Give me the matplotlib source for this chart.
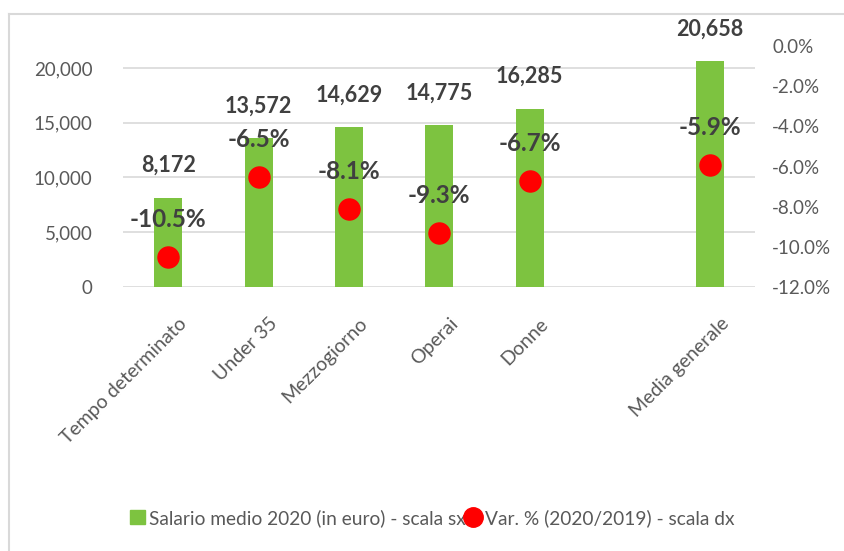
import matplotlib.pyplot as plt
from matplotlib.lines import Line2D
from matplotlib.patches import Patch
from matplotlib.transforms import ScaledTranslation

plt.rcParams['font.family'] = ['Lato', 'DejaVu Sans']

categorie = ['Tempo determinato', 'Under 35', 'Mezzogiorno', 'Operai', 'Donne', '', 'Media generale']
salario = [8172, 13572, 14629, 14775, 16285, None, 20658]
variazione = [-10.5, -6.5, -8.1, -9.3, -6.7, None, -5.9]

verde = '#7DC340'
rosso = '#FF0000'
grigio = '#595959'
scuro = '#404040'

fig = plt.figure(figsize=(8.44, 5.51), dpi=100)
ax = fig.add_axes([0.146, 0.479, 0.749, 0.4375])
ax2 = ax.twinx()

pos = list(range(len(categorie)))
for i in pos:
    if salario[i] is None:
        continue
    ax.bar(i, salario[i], width=0.31, color=verde, zorder=2)
    ax.annotate('{:,}'.format(salario[i]), (i, salario[i]), xytext=(0, 23),
                textcoords='offset points', ha='center', va='center',
                fontsize=15.5, fontweight='bold', color=scuro)

for i in pos:
    if variazione[i] is None:
        continue
    ax2.scatter(i, variazione[i], s=230, color=rosso, zorder=3)
    ax2.annotate('{:.1f}%'.format(variazione[i]), (i, variazione[i]), xytext=(0, 27),
                 textcoords='offset points', ha='center', va='center',
                 fontsize=17.5, fontweight='bold', color=scuro)

ax.set_xlim(-0.5, 6.5)
ax.set_ylim(0, 22000)
ax.set_yticks([0, 5000, 10000, 15000, 20000])
ax.set_yticklabels(['{:,}'.format(v) for v in [0, 5000, 10000, 15000, 20000]])
ax.yaxis.grid(True, color='#d9d9d9', linewidth=1.2, zorder=0)
ax.set_axisbelow(True)

ax2.set_ylim(-12, 0)
ax2.set_yticks([-12, -10, -8, -6, -4, -2, 0])
ax2.set_yticklabels(['{:.1f}%'.format(v) for v in [-12, -10, -8, -6, -4, -2, 0]])

ax.set_xticks(pos)
ax.set_xticklabels(categorie, rotation=45, ha='right', va='top', rotation_mode='anchor')

for a in (ax, ax2):
    for s in a.spines.values():
        s.set_visible(False)
    a.tick_params(length=0, labelsize=13.5, labelcolor=grigio)
ax.tick_params(axis='x', pad=20, labelsize=14)
ax.tick_params(axis='y', pad=22)
ax2.tick_params(axis='y', pad=12)

# sposta le etichette ruotate un po' a destra
sposta = ScaledTranslation(10 / 100, 0, fig.dpi_scale_trans)
for t in ax.get_xticklabels():
    t.set_transform(t.get_transform() + sposta)

handles = [Patch(color=verde), Line2D([], [], marker='o', linestyle='', color=rosso, markersize=14)]
labels = ['Salario medio 2020 (in euro) - scala sx', 'Var. % (2020/2019) - scala dx']
fig.legend(handles, labels, loc='center', bbox_to_anchor=(0.512, 0.06), ncol=2, frameon=False,
           fontsize=13.8, labelcolor=grigio, handlelength=0.8, handletextpad=0.2,
           columnspacing=0.0)

# bordo del riquadro
fig.add_artist(Line2D([9 / 844, 1], [1 - 14 / 551] * 2, color='#d9d9d9', linewidth=1.5))
fig.add_artist(Line2D([9 / 844] * 2, [0, 1 - 14 / 551], color='#d9d9d9', linewidth=1.5))

fig.savefig('out.png', dpi=100)
